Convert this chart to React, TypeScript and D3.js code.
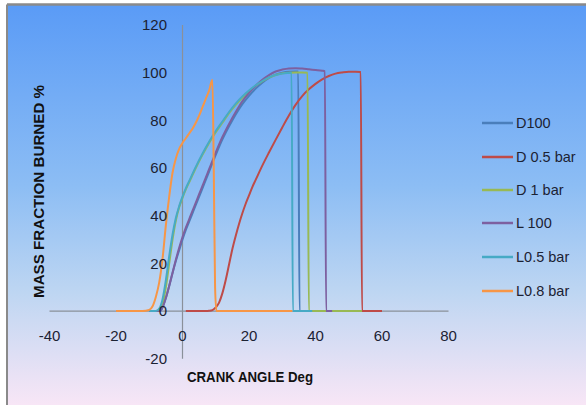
import React from "react";
import * as d3 from "d3";

type Pt = [number, number];

const xTicks = [-40, -20, 0, 20, 40, 60, 80];
const yTicks = [-20, 0, 20, 40, 60, 80, 100, 120];

const seriesNames = ["D100", "D 0.5 bar", "D 1 bar", "L 100", "L0.5 bar", "L0.8 bar"];
const seriesColors = ["#4a7ebb", "#be4b48", "#98b954", "#7d60a0", "#46aac5", "#f79646"];

const d100: Pt[] = [[-10,0],[-7,0],[-6.5,0.3],[-6,1.5],[-5,5.5],[-4,10.5],[-3,16],[-2,21],[-1,25.5],[0,30],[1,34],[2,37.5],[3,41],[4,44.5],[5,48],[6,51.5],[7,55],[8,58.5],[10,65.5],[12,72],[14,77.5],[16,82.5],[18,86.8],[20,90.3],[22,93.3],[24,95.8],[26,97.8],[28,99.2],[30,100],[32,100.4],[34,100.5],[34.8,100.5],[35.2,0],[38,0]];
const d05: Pt[] = [[1,0],[5,0],[7,0],[8,0.1],[9,0.4],[10,1.5],[11,3.5],[12,7.5],[13,13],[14,19.5],[15,26],[16,31.5],[17,36.5],[18,41],[19,45],[20,48.5],[21,52],[22,55],[24,61],[26,66.5],[28,71.8],[30,77],[32,82],[34,86.5],[36,90.2],[38,93],[40,95.3],[42,97.2],[44,98.6],[46,99.6],[48,100.1],[50,100.4],[52,100.4],[53.6,100.3],[54,0],[60,0]];
const d1: Pt[] = [[-10,0],[-8,0],[-7,0.5],[-6,3],[-5,10],[-4,20],[-3,30],[-2,38],[-1,43.5],[0,47.5],[1,51],[2,54],[4,60],[6,65.5],[8,70.5],[10,75],[12,79],[14,83],[16,86.5],[18,89.5],[20,92.2],[22,94.5],[24,96.4],[26,97.9],[28,99],[30,99.7],[32,100],[34,100.1],[36,100.1],[37.6,100],[38,0],[54,0]];
const l100: Pt[] = [[-10,0],[-7,0],[-6.5,0.3],[-6,1.5],[-5,5.5],[-4,10.5],[-3,16],[-2,21.5],[-1,26.5],[0,31],[1,35],[2,38.5],[3,42],[4,45.5],[5,49],[6,52.5],[7,56],[8,59.5],[10,66.5],[12,73],[14,78.5],[16,83.5],[18,88],[20,91.5],[22,94.5],[24,97],[26,99],[28,100.5],[30,101.3],[32,101.8],[34,101.9],[36,101.7],[38,101.4],[40,101.1],[42,100.8],[42.8,100.6],[43.2,0],[45,0]];
const l05: Pt[] = [[-10,0],[-8,0],[-7,1],[-6,5],[-5,13],[-4,23],[-3,32],[-2,39],[-1,44],[0,48],[1,51.5],[2,54.5],[4,60.5],[6,66],[8,71],[10,75.5],[12,79.5],[14,83.5],[16,87],[18,90],[20,92.5],[22,94.7],[24,96.5],[26,98],[28,99],[30,99.6],[32,99.9],[32.8,100],[33.2,0],[39,0]];
const l08: Pt[] = [[-20,0],[-12,0],[-10,0.5],[-9,2],[-8,6],[-7,12],[-6,22],[-5,36],[-4,48],[-3,58],[-2,64],[-1,68],[0,70.5],[1,72.5],[2,74.5],[3,76.5],[4,79],[5,82],[6,85.5],[7,89],[8,92.5],[9,97],[9.4,60],[9.8,10],[10.2,0],[33,0]];

const allSeries = [d100, d05, d1, l100, l05, l08];

export default function App() {
  const W = 586, H = 405;
  const x = d3.scaleLinear().domain([-40, 80]).range([49.5, 448.5]);
  const y = d3.scaleLinear().domain([-20, 120]).range([358.7, 25]);
  const line = d3.line<Pt>().x(d => x(d[0])).y(d => y(d[1])).curve(d3.curveMonotoneX);
  const font = "'Liberation Sans', Arial, sans-serif";
  const legendY = [123, 157, 190, 223, 257, 291];

  return (
    <svg width={W} height={H} style={{ position: "absolute", left: 0, top: 0 }} fontFamily={font}>
      <defs>
        <linearGradient id="bg" x1="0" y1="0" x2="0" y2="1">
          <stop offset="0" stopColor="#5a9bf6" />
          <stop offset="0.45" stopColor="#8cbdf4" />
          <stop offset="0.72" stopColor="#bed6f2" />
          <stop offset="1" stopColor="#f8e6f6" />
        </linearGradient>
      </defs>
      <rect x={0} y={0} width={W} height={H} fill="#ffffff" />
      <rect x={7} y={4.5} width={W - 7} height={H - 4.5} fill="url(#bg)" />
      <line x1={7} y1={4.5} x2={W} y2={4.5} stroke="#8a8a8a" strokeWidth={2.5} />
      <line x1={7} y1={4.5} x2={7} y2={H} stroke="#8a8a8a" strokeWidth={2} />

      {/* axes */}
      <line x1={x(-40)} x2={x(80)} y1={y(0)} y2={y(0)} stroke="#8a9099" strokeWidth={1.2} />
      <line x1={x(0)} x2={x(0)} y1={y(-20)} y2={y(120)} stroke="#8a9099" strokeWidth={1.2} />

      {/* series */}
      {allSeries.map((s, i) => (
        <path key={i} d={line(s) || ""} fill="none" stroke={seriesColors[i]} strokeWidth={2} strokeLinejoin="round" />
      ))}

      {/* y tick labels */}
      {yTicks.map(t => (
        <text key={"y" + t} x={167} y={y(t)} dy="0.36em" textAnchor="end" fontSize={15} fill="#1c2233">{t}</text>
      ))}
      {/* x tick labels */}
      {xTicks.map(t => (
        <text key={"x" + t} x={x(t)} y={341} textAnchor="middle" fontSize={15} fill="#1c2233">{t}</text>
      ))}

      {/* axis titles */}
      <text x={187} y={382} fontSize={14.5} fontWeight="bold" fill="#111" textLength={126} lengthAdjust="spacingAndGlyphs">CRANK ANGLE Deg</text>
      <text transform="translate(43.5,191.5) rotate(-90)" textAnchor="middle" fontSize={14.5} fontWeight="bold" fill="#111" textLength={213} lengthAdjust="spacingAndGlyphs">MASS FRACTION BURNED %</text>

      {/* legend */}
      {seriesNames.map((n, i) => (
        <g key={n}>
          <line x1={482} x2={513} y1={legendY[i]} y2={legendY[i]} stroke={seriesColors[i]} strokeWidth={2.5} />
          <text x={516} y={legendY[i]} dy="0.36em" fontSize={14.5} fill="#1c2233">{n}</text>
        </g>
      ))}
    </svg>
  );
}
